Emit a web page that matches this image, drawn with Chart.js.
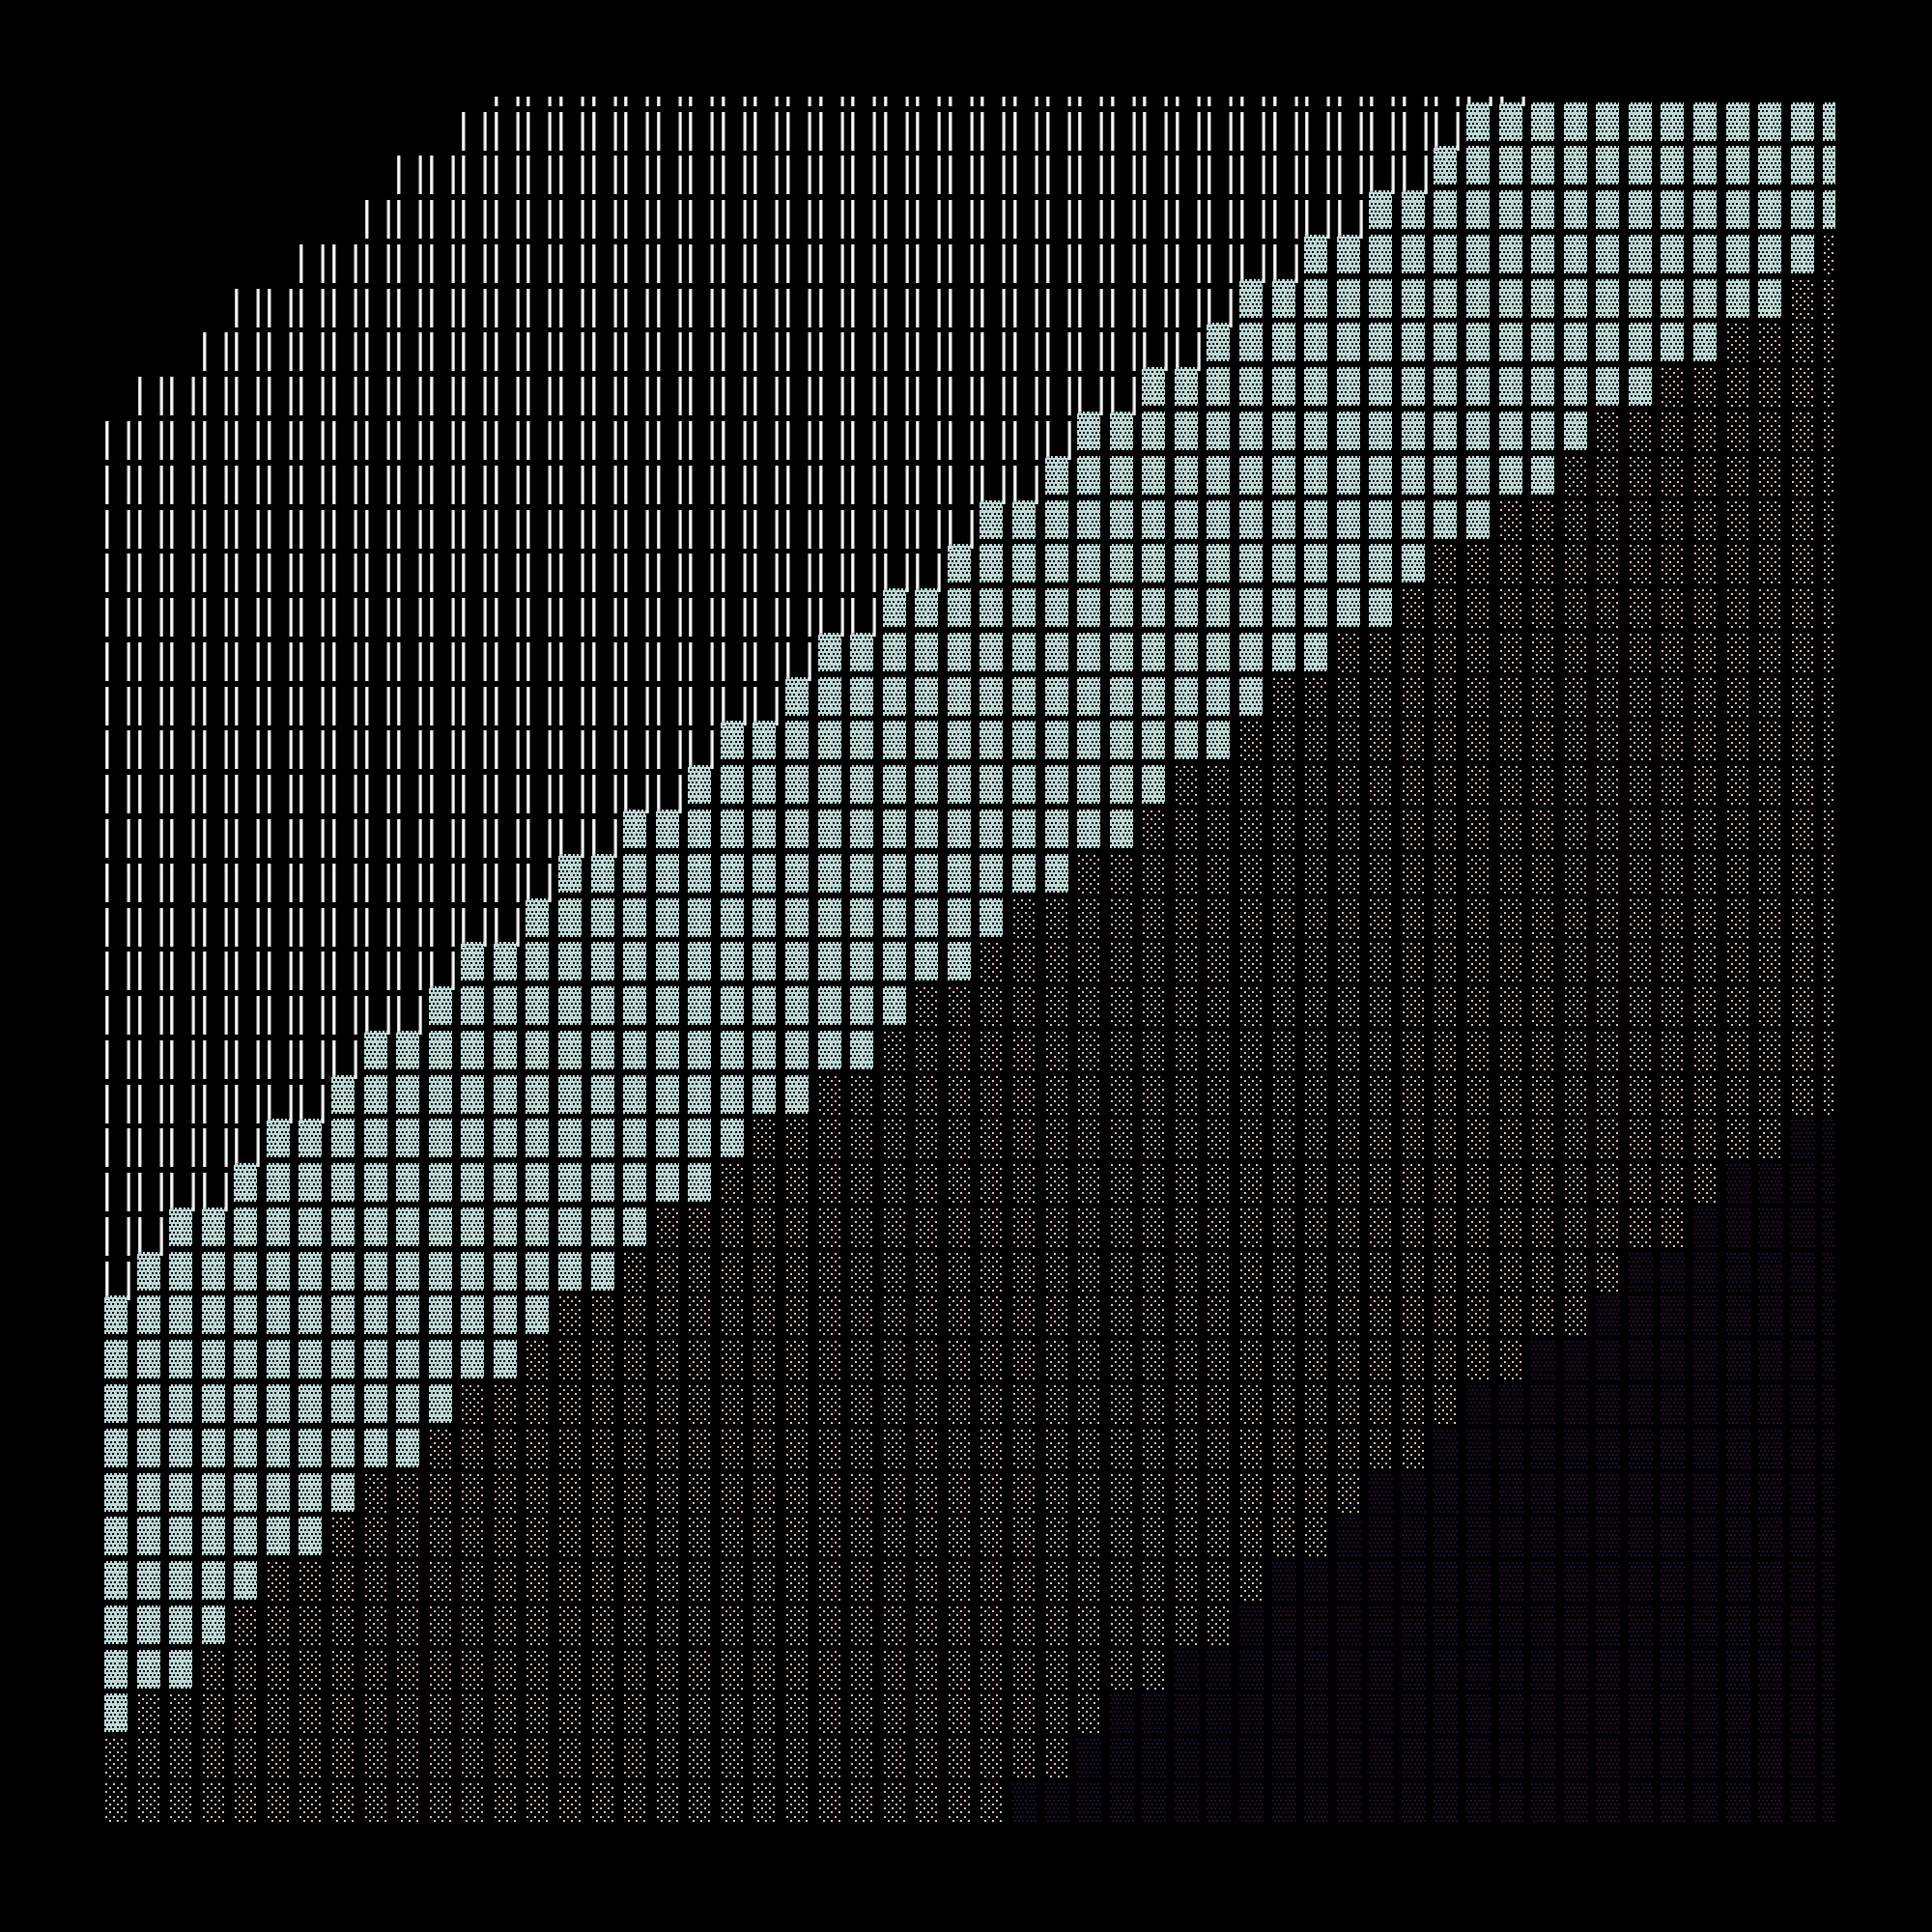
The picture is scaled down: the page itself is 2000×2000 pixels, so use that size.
<!DOCTYPE html>
<html>
<head>
<meta charset="utf-8">
<title>Chart</title>
<script src="https://cdn.jsdelivr.net/npm/chart.js@4"></script>
<style>
    html, body { margin: 0; padding: 0; background: #000; }
    canvas { display: block; }
</style>
</head>
<body>
<canvas id="chart" width="2000" height="2000"></canvas>
<script>
// Values per column (row numbers count from the bottom)
const columns = [0,1,2,3,4,5,6,7,8,9,10,11,12,13,14,15,16,17,18,19,20,21,22,23,24,25,26,
    27,28,29,30,31,32,33,34,35,36,37,38,39,40,41,42,43,44,45,46,47,48,49,50,51,52,53];
const lineTop = [31,32,32,33,34,34,35,35,36,37,37,38,39,39,39,39,39,39,39,39,39,39,39,39,39,39,39,
    39,39,39,39,39,39,39,39,39,39,39,39,39,39,39,39,39,38,38,38,38,38,38,38,38,38,38];
const tealTop = [11,12,13,13,14,15,15,16,17,17,18,19,19,20,21,21,22,22,23,24,24,25,26,26,27,27,28,
    29,29,30,31,31,32,32,33,34,34,35,35,36,36,37,38,38,38,38,38,38,38,38,38,38,38,38];
const tealBottom = [2,3,3,4,5,6,6,7,8,8,9,10,10,11,12,12,13,14,14,15,16,16,17,17,18,19,19,
    20,21,21,22,22,23,24,24,25,26,26,27,27,28,29,29,30,30,31,32,32,33,33,34,34,35,36];
const purpleTop = [-1,-1,-1,-1,-1,-1,-1,-1,-1,-1,-1,-1,-1,-1,-1,-1,-1,-1,-1,-1,-1,-1,-1,-1,-1,-1,-1,
    -1,0,0,1,2,2,3,3,4,5,5,6,7,7,8,9,9,10,10,11,12,12,13,14,14,15,15];

// Sprite helpers: each cell is drawn as a small canvas used as pointStyle
const CELL_W = 24, CELL_H = 40, SPRITE_W = 32, SPRITE_H = 62;

function makeSprite(paint) {
    const c = document.createElement('canvas');
    c.width = SPRITE_W;
    c.height = SPRITE_H;
    paint(c.getContext('2d'), (SPRITE_W - CELL_W) / 2, (SPRITE_H - CELL_H) / 2);
    return c;
}

function tealCell(ctx, x0, y0) {
    ctx.fillStyle = '#bddad6';
    ctx.fillRect(x0, y0, CELL_W, CELL_H);
    for (let r = 0; r < 10; r++) {
        const y = y0 + Math.round(r * 4.2);
        for (let i = 0; i < 6; i++) {
            const x = x0 + (r % 2 ? 2 : 0) + Math.round(i * 4.2);
            ctx.clearRect(x, y, 2, 2);
        }
    }
}

function pinkCell(ctx, x0, y0) {
    ctx.fillStyle = '#e2bccb';
    for (let r = 0; r < 10; r++) {
        const y = y0 + 1 + Math.round(r * 4.2);
        for (let i = 0; i < 3; i++) {
            const x = x0 + (r % 2 ? 5 : 1) + i * 8;
            ctx.fillRect(x, y, 2, 2);
        }
    }
}

function purpleCell(ctx, x0, y0) {
    ctx.fillStyle = '#280e32';
    for (let r = 0; r < 10; r++) {
        const y = y0 + 1 + Math.round(r * 4.2);
        for (let i = 0; i < 6; i++) {
            const x = x0 + (r % 2 ? 2 : 0) + Math.round(i * 4.2);
            ctx.fillRect(x, y, 2, 2);
        }
    }
}

function lineCell(ctx, x0, y0) {
    const left = ['#c8c8c8', '#ffffff', '#f0f0f0', '#707070'];
    const right = ['#707070', '#e0e0e0', '#ffffff', '#a8a8a8'];
    left.forEach((col, i) => {
        ctx.fillStyle = col;
        ctx.fillRect(x0 + 1 + i, y0 + 10, 1, CELL_H);
    });
    right.forEach((col, i) => {
        ctx.fillStyle = col;
        ctx.fillRect(x0 + 23 + i, y0 + 10, 1, CELL_H);
    });
}

// Build the points of each level from the arrays above
const linePoints = [], tealPoints = [], pinkPoints = [], purplePoints = [];
columns.forEach((col, i) => {
    for (let row = tealTop[i] + 1; row <= lineTop[i]; row++) linePoints.push({ x: col, y: row });
    for (let row = tealBottom[i]; row <= tealTop[i]; row++) tealPoints.push({ x: col, y: row });
    for (let row = purpleTop[i] + 1; row < tealBottom[i]; row++) pinkPoints.push({ x: col, y: row });
    for (let row = 0; row <= purpleTop[i]; row++) purplePoints.push({ x: col, y: row });
});

function levelDataset(points, paint) {
    return {
        data: points,
        pointStyle: makeSprite(paint),
        pointRadius: 32,
        pointBorderWidth: 0,
        pointHoverRadius: 32
    };
}

new Chart(document.getElementById('chart'), {
    type: 'scatter',
    data: {
        datasets: [
            levelDataset(tealPoints, tealCell),
            levelDataset(pinkPoints, pinkCell),
            levelDataset(purplePoints, purpleCell),
            levelDataset(linePoints, lineCell)
        ]
    },
    options: {
        responsive: false,
        devicePixelRatio: 1,
        animation: false,
        events: [],
        layout: { padding: { left: 108, right: 100, top: 100, bottom: 114 } },
        plugins: { legend: { display: false }, tooltip: { enabled: false } },
        scales: {
            x: { type: 'linear', display: false, min: -0.357, max: 53.02 },
            y: { type: 'linear', display: false, min: -0.459, max: 38.56 }
        }
    },
    plugins: [{
        id: 'crispSprites',
        beforeDatasetsDraw(chart) { chart.ctx.imageSmoothingEnabled = false; }
    }, {
        id: 'blackPage',
        beforeDraw(chart) {
            chart.ctx.fillStyle = '#000';
            chart.ctx.fillRect(0, 0, chart.width, chart.height);
        }
    }]
});
</script>
</body>
</html>
